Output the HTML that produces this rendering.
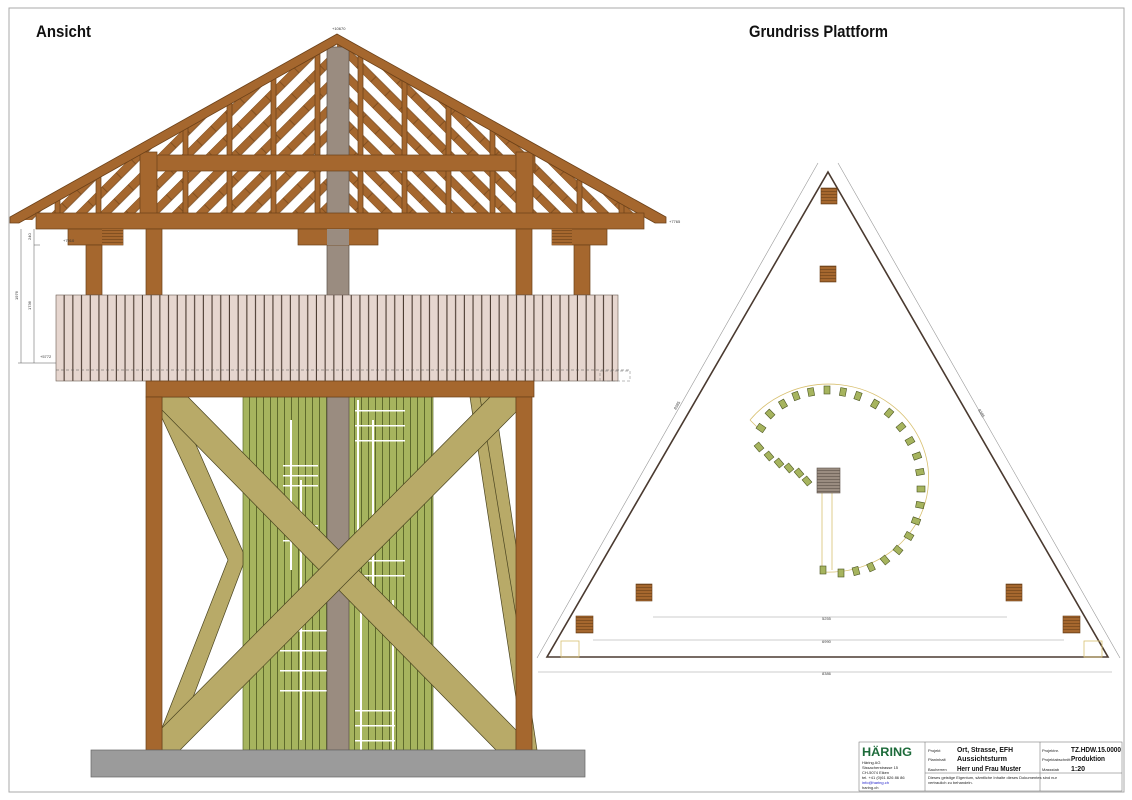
<!DOCTYPE html>
<html><head><meta charset="utf-8"><style>
html,body{margin:0;padding:0;background:#fff;}
svg{display:block;font-family:"Liberation Sans",sans-serif;}
</style></head><body>
<svg width="1132" height="800" viewBox="0 0 1132 800" xmlns="http://www.w3.org/2000/svg">
<defs>
<clipPath id="roofL"><polygon points="337,42 20,220 337,220"/></clipPath>
<clipPath id="roofR"><polygon points="337,42 654,220 337,220"/></clipPath>
<pattern id="slat" x="56" y="0" width="8.7" height="10" patternUnits="userSpaceOnUse">
<rect width="8.7" height="10" fill="#e6d6cf"/><rect x="7.6" width="1.1" height="10" fill="#4a3a30"/></pattern>
<pattern id="green" x="243" y="0" width="7" height="10" patternUnits="userSpaceOnUse">
<rect width="7" height="10" fill="#a6b45e"/><rect x="6" width="1" height="10" fill="#5e6a2c"/></pattern>
<pattern id="stripL" width="17" height="20" patternUnits="userSpaceOnUse" patternTransform="rotate(45)">
<rect width="17" height="20" fill="#fff"/><rect width="8" height="20" fill="#a5672e" stroke="#6b4018" stroke-width="0.6"/></pattern>
<pattern id="stripR" width="17" height="20" patternUnits="userSpaceOnUse" patternTransform="rotate(-45)">
<rect width="17" height="20" fill="#fff"/><rect width="8" height="20" fill="#a5672e" stroke="#6b4018" stroke-width="0.6"/></pattern>
<pattern id="wood" width="16" height="3" patternUnits="userSpaceOnUse">
<rect width="16" height="3" fill="#a5672e"/><rect y="2.4" width="16" height="0.6" fill="#6b4018"/></pattern>
<pattern id="grey" width="24" height="3" patternUnits="userSpaceOnUse">
<rect width="24" height="3" fill="#9a8c80"/><rect y="2.4" width="24" height="0.6" fill="#5a5048"/></pattern>
</defs>

<rect x="9" y="8" width="1115" height="784" fill="none" stroke="#aaa" stroke-width="1"/>

<text x="36" y="37" font-size="17" font-weight="bold" fill="#111" textLength="55" lengthAdjust="spacingAndGlyphs">Ansicht</text>
<text x="749" y="37" font-size="17" font-weight="bold" fill="#111" textLength="139" lengthAdjust="spacingAndGlyphs">Grundriss Plattform</text>

<!-- ROOF -->
<rect x="0" y="40" width="337" height="185" fill="url(#stripL)" clip-path="url(#roofL)"/>
<rect x="337" y="40" width="317" height="185" fill="url(#stripR)" clip-path="url(#roofR)"/>
<g fill="#a5672e" stroke="#6b4018" stroke-width="0.7">
<rect x="55" y="195" width="5" height="30"/>
<rect x="96" y="172" width="5" height="53"/>
<rect x="183" y="122" width="5" height="103"/>
<rect x="227" y="98" width="5" height="127"/>
<rect x="271" y="73" width="5" height="152"/>
<rect x="315" y="49" width="5" height="176"/>
<rect x="358" y="49" width="5" height="176"/>
<rect x="402" y="73" width="5" height="152"/>
<rect x="446" y="98" width="5" height="127"/>
<rect x="490" y="122" width="5" height="103"/>
<rect x="577" y="172" width="5" height="53"/>
<rect x="619" y="195" width="5" height="30"/>
</g>
<rect x="327" y="47" width="22" height="703" fill="#9a8c80" stroke="#5a5048" stroke-width="0.7"/>
<rect x="145" y="155" width="390" height="16" fill="#a5672e" stroke="#6b4018" stroke-width="0.7"/>
<rect x="140" y="152" width="17" height="75" fill="#a5672e" stroke="#6b4018" stroke-width="0.7"/>
<rect x="516" y="152" width="17" height="75" fill="#a5672e" stroke="#6b4018" stroke-width="0.7"/>
<polygon points="337,34 666,217 666,223 655,223 337,44 19,223 10,223 10,217" fill="#a5672e" stroke="#6b4018" stroke-width="0.8"/>
<rect x="36" y="213" width="608" height="16" fill="#a5672e" stroke="#6b4018" stroke-width="0.7"/>
<rect x="68" y="229" width="55" height="16" fill="#a5672e" stroke="#6b4018" stroke-width="0.7"/>
<rect x="102" y="229" width="21" height="16" fill="url(#wood)"/>
<rect x="298" y="229" width="80" height="16" fill="#a5672e" stroke="#6b4018" stroke-width="0.7"/>
<rect x="327" y="229" width="22" height="16" fill="#9a8c80"/>
<rect x="552" y="229" width="55" height="16" fill="#a5672e" stroke="#6b4018" stroke-width="0.7"/>
<rect x="552" y="229" width="20" height="16" fill="url(#wood)"/>
<g fill="#a5672e" stroke="#6b4018" stroke-width="0.7">
<rect x="86" y="245" width="16" height="50"/>
<rect x="146" y="229" width="16" height="66"/>
<rect x="516" y="229" width="16" height="66"/>
<rect x="574" y="245" width="16" height="50"/>
</g>
<rect x="56" y="295" width="562" height="86" fill="url(#slat)" stroke="#6a5a50" stroke-width="0.6"/>
<line x1="56" y1="370" x2="630" y2="370" stroke="#555" stroke-width="0.5" stroke-dasharray="3,2"/>
<rect x="600" y="371" width="30" height="10" fill="none" stroke="#777" stroke-width="0.5" stroke-dasharray="3,2"/>
<g stroke="#555" stroke-width="0.5" fill="none">
<line x1="21" y1="229" x2="21" y2="363"/><line x1="34" y1="229" x2="34" y2="363"/>
<line x1="34" y1="245" x2="40" y2="245"/><line x1="18" y1="363" x2="56" y2="363"/>
</g>
<g font-size="4" fill="#333">
<text x="18" y="300" transform="rotate(-90 18 300)">1976</text>
<text x="31" y="310" transform="rotate(-90 31 310)">1736</text>
<text x="31" y="240" transform="rotate(-90 31 240)">240</text>
<text x="63" y="242">+7910</text><text x="40" y="358">+5772</text>
<text x="332" y="30">+10670</text><text x="669" y="223">+7765</text><text x="216" y="393">+5292</text>
</g>

<!-- LOWER -->
<rect x="243" y="397" width="190" height="353" fill="url(#green)" stroke="#5e6a2c" stroke-width="0.7"/>
<g fill="#fff">
<rect x="290" y="420" width="2" height="150"/><rect x="300" y="480" width="2" height="260"/>
<rect x="357" y="400" width="2" height="180"/><rect x="372" y="420" width="2" height="180"/>
<rect x="360" y="600" width="2" height="150"/><rect x="392" y="600" width="2" height="150"/>
<rect x="283" y="465" width="35" height="1.5"/><rect x="283" y="475" width="35" height="1.5"/><rect x="283" y="485" width="35" height="1.5"/>
<rect x="283" y="525" width="35" height="1.5"/><rect x="283" y="540" width="35" height="1.5"/>
<rect x="355" y="410" width="50" height="1.5"/><rect x="355" y="425" width="50" height="1.5"/><rect x="355" y="440" width="50" height="1.5"/>
<rect x="355" y="560" width="50" height="1.5"/><rect x="355" y="575" width="50" height="1.5"/>
<rect x="280" y="630" width="50" height="1.5"/><rect x="280" y="650" width="50" height="1.5"/><rect x="280" y="670" width="50" height="1.5"/><rect x="280" y="690" width="50" height="1.5"/>
<rect x="355" y="710" width="40" height="1.5"/><rect x="355" y="725" width="40" height="1.5"/><rect x="355" y="740" width="40" height="1.5"/>
</g>
<rect x="327" y="397" width="22" height="353" fill="#9a8c80" stroke="#5a5048" stroke-width="0.7"/>
<g fill="#b8aa68" stroke="#4a4420" stroke-width="0.7">
<polygon points="162,400 175,397 243,552 243,565 175,745 162,745 162,728 228,560 162,418"/>
<polygon points="470,397 484,397 537,750 524,750"/>
<polygon points="480,397 494,397 530,640 520,640"/>
<polygon points="162,397 188,397 516,730 516,750 496,750 162,410"/>
<polygon points="516,397 490,397 162,728 162,750 180,750 516,412"/>
</g>
<rect x="146" y="381" width="388" height="16" fill="#a5672e" stroke="#6b4018" stroke-width="0.7"/>
<rect x="146" y="397" width="16" height="353" fill="#a5672e" stroke="#6b4018" stroke-width="0.7"/>
<rect x="516" y="397" width="16" height="353" fill="#a5672e" stroke="#6b4018" stroke-width="0.7"/>
<rect x="91" y="750" width="494" height="27" fill="#9b9b9b" stroke="#666" stroke-width="0.7"/>

<!-- PLAN -->
<g stroke="#999" stroke-width="0.6" fill="none">
<line x1="818" y1="163" x2="537" y2="658"/>
<line x1="838" y1="163" x2="1120" y2="658"/>
<line x1="538" y1="672" x2="1112" y2="672"/>
<line x1="593" y1="640" x2="1064" y2="640"/>
<line x1="653" y1="617" x2="1007" y2="617"/>
</g>
<polygon points="828,172 1108,657 547,657" fill="none" stroke="#4a3a30" stroke-width="1.6"/>
<g font-size="4" fill="#444">
<text x="822" y="620">5255</text><text x="822" y="643">6990</text><text x="822" y="675">8386</text>
<text x="676" y="410" transform="rotate(-60 676 410)">8385</text>
<text x="978" y="410" transform="rotate(60 978 410)">8385</text>
</g>
<g stroke="#d8c070" stroke-width="0.8" fill="none">
<rect x="561" y="641" width="18" height="16"/><rect x="1084" y="641" width="18" height="16"/>
<path d="M750,420 A100,94 0 1 1 824,572 L822,570 L822,492 M832,492 L832,570"/>
<line x1="750" y1="420" x2="758" y2="428"/>
</g>
<g fill="url(#wood)" stroke="#6b4018" stroke-width="0.6">
<rect x="821" y="188" width="16" height="16"/>
<rect x="820" y="266" width="16" height="16"/>
<rect x="636" y="584" width="16" height="17"/>
<rect x="1006" y="584" width="16" height="17"/>
<rect x="576" y="616" width="17" height="17"/>
<rect x="1063" y="616" width="17" height="17"/>
</g>
<rect x="817" y="468" width="23" height="25" fill="url(#grey)" stroke="#5a5048" stroke-width="0.6"/>
<g fill="#a6b45e" stroke="#4a5420" stroke-width="0.6">
<rect x="756" y="443" width="6" height="8" transform="rotate(-40 759 447)"/>
<rect x="766" y="452" width="6" height="8" transform="rotate(-40 769 456)"/>
<rect x="776" y="459" width="6" height="8" transform="rotate(-40 779 463)"/>
<rect x="786" y="464" width="6" height="8" transform="rotate(-40 789 468)"/>
<rect x="796" y="469" width="6" height="8" transform="rotate(-40 799 473)"/>
<rect x="804" y="477" width="6" height="8" transform="rotate(-40 807 481)"/>
<rect x="758" y="424" width="6" height="8" transform="rotate(-55 761 428)"/>
<rect x="767" y="410" width="6" height="8" transform="rotate(-45 770 414)"/>
<rect x="780" y="400" width="6" height="8" transform="rotate(-30 783 404)"/>
<rect x="793" y="392" width="6" height="8" transform="rotate(-20 796 396)"/>
<rect x="808" y="388" width="6" height="8" transform="rotate(-10 811 392)"/>
<rect x="824" y="386" width="6" height="8"/>
<rect x="840" y="388" width="6" height="8" transform="rotate(10 843 392)"/>
<rect x="855" y="392" width="6" height="8" transform="rotate(20 858 396)"/>
<rect x="872" y="400" width="6" height="8" transform="rotate(30 875 404)"/>
<rect x="886" y="409" width="6" height="8" transform="rotate(40 889 413)"/>
<rect x="898" y="423" width="6" height="8" transform="rotate(50 901 427)"/>
<rect x="907" y="437" width="6" height="8" transform="rotate(60 910 441)"/>
<rect x="914" y="452" width="6" height="8" transform="rotate(70 917 456)"/>
<rect x="917" y="468" width="6" height="8" transform="rotate(80 920 472)"/>
<rect x="918" y="485" width="6" height="8" transform="rotate(90 921 489)"/>
<rect x="917" y="501" width="6" height="8" transform="rotate(100 920 505)"/>
<rect x="913" y="517" width="6" height="8" transform="rotate(110 916 521)"/>
<rect x="906" y="532" width="6" height="8" transform="rotate(120 909 536)"/>
<rect x="895" y="546" width="6" height="8" transform="rotate(130 898 550)"/>
<rect x="882" y="556" width="6" height="8" transform="rotate(140 885 560)"/>
<rect x="868" y="563" width="6" height="8" transform="rotate(155 871 567)"/>
<rect x="853" y="567" width="6" height="8" transform="rotate(165 856 571)"/>
<rect x="838" y="569" width="6" height="8"/>
<rect x="820" y="566" width="6" height="8"/>
</g>

<!-- TITLE BLOCK -->
<g stroke="#666" stroke-width="0.5" fill="none">
<rect x="859" y="742" width="263" height="49"/>
<line x1="925" y1="742" x2="925" y2="791"/>
<line x1="1040" y1="742" x2="1040" y2="791"/>
<line x1="925" y1="773" x2="1122" y2="773"/>
</g>
<text x="862" y="756" font-size="12" font-weight="bold" fill="#1d6b3a" textLength="50" lengthAdjust="spacingAndGlyphs">HÄRING</text>
<g font-size="4" fill="#222">
<text x="862" y="764">Häring AG</text><text x="862" y="769">Sissacherstrasse 15</text>
<text x="862" y="774">CH-5074 Eiken</text><text x="862" y="779">tel. +41 (0)61 826 86 86</text>
<text x="862" y="784" fill="#22c">info@haring.ch</text><text x="862" y="789">haring.ch</text>
<text x="928" y="752">Projekt</text><text x="928" y="761">Planinhalt</text><text x="928" y="771">Bauherren</text>
<text x="1042" y="752">Projektnr.</text><text x="1042" y="761">Projektabschnitt</text><text x="1042" y="771">Massstab</text>
<text x="928" y="779">Dieses geistige Eigentum, sämtliche Inhalte dieses Dokumentes sind nur</text>
<text x="928" y="784">vertraulich zu behandeln.</text>
</g>
<g font-size="7" font-weight="bold" fill="#111">
<text x="957" y="752" textLength="56" lengthAdjust="spacingAndGlyphs">Ort, Strasse, EFH</text>
<text x="957" y="761" textLength="50" lengthAdjust="spacingAndGlyphs">Aussichtsturm</text>
<text x="957" y="771" textLength="64" lengthAdjust="spacingAndGlyphs">Herr und Frau Muster</text>
<text x="1071" y="752" textLength="50" lengthAdjust="spacingAndGlyphs">TZ.HDW.15.0000</text>
<text x="1071" y="761" textLength="34" lengthAdjust="spacingAndGlyphs">Produktion</text>
<text x="1071" y="771">1:20</text>
</g>
</svg>
</body></html>
